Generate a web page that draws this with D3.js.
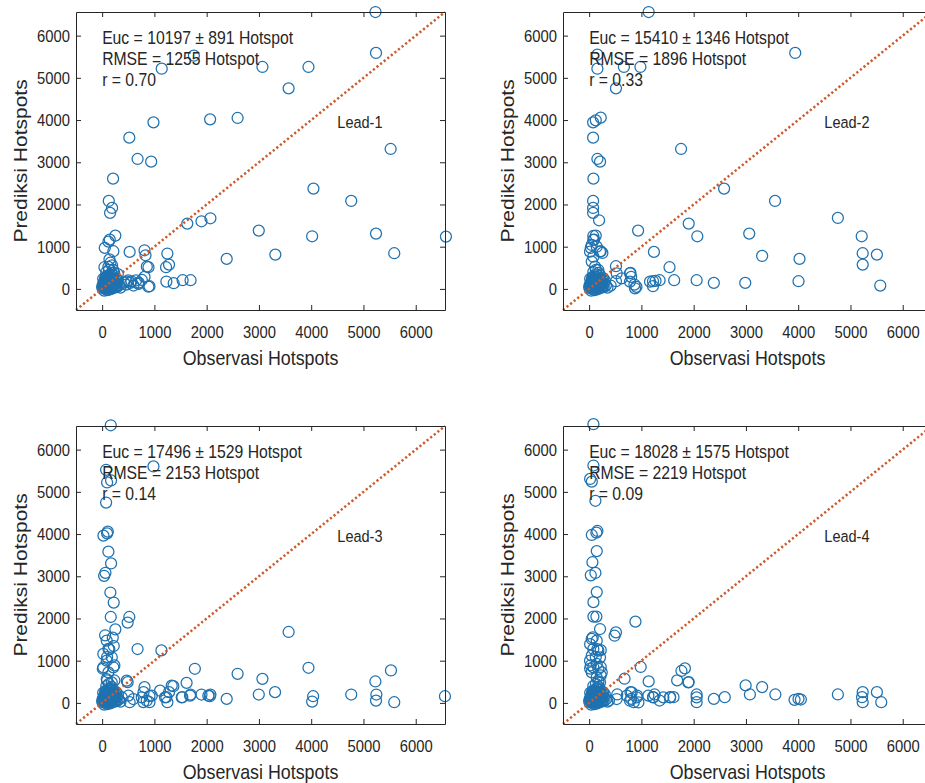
<!DOCTYPE html>
<html>
<head>
<meta charset="utf-8">
<script src="https://cdn.jsdelivr.net/npm/d3@7"></script>
<style>
  body { margin: 0; background: #fff; }
  svg { display: block; font-family: 'Liberation Sans', Arial, sans-serif; }
</style>
</head>
<body>
<svg id="chart" width="925" height="783"></svg>
<script>
// axis range shared by every panel (x and y identical, 1:1 line corner to corner)
const DOMAIN = [-500, 6560];
const TICKS = [0, 1000, 2000, 3000, 4000, 5000, 6000];

const leadNames = ['Lead-1', 'Lead-2', 'Lead-3', 'Lead-4'];
const eucText = ['10197 \u00b1 891', '15410 \u00b1 1346', '17496 \u00b1 1529', '18028 \u00b1 1575'];
const rmseText = ['1255', '1896', '2153', '2219'];
const rText = ['0.70', '0.33', '0.14', '0.09'];

// dense blob of small observations / small predictions (same in all panels)
const nearOrigin = [[20,20],[40,60],[60,100],[80,140],[100,180],[120,60],[140,120],[160,200],[180,80],[200,250],
  [220,150],[240,40],[50,200],[70,260],[90,300],[110,20],[130,280],[150,340],[170,30],[190,160],[210,320],
  [230,100],[250,220],[30,150],[60,0],[100,-30],[150,-10],[200,10],[260,60],[280,130],[300,200],[320,80],
  [350,30],[80,400],[130,450],[180,380],[40,-40],[10,90],[90,50],[130,170],[170,240],[210,60],[60,220],[270,250],
  [0,40],[30,110],[50,30],[70,170],[110,240],[140,60],[160,130],[190,20],[220,210],[240,110],[120,120],[90,200],
  [60,280],[180,300],[250,150],[20,240],[140,220],[200,130],[280,40],[110,90],[80,70],[170,170]];

// [observasi, prediksi]
const lead1 = [[5230,6560],[5240,5590],[1755,5525],[1140,5217],[3067,5257],[3948,5257],[3568,4751],[2066,4017],
  [2592,4049],[982,3946],[520,3583],[678,3078],[938,3015],[5520,3315],[209,2612],[4043,2376],[4766,2084],
  [127,2084],[190,1918],[152,1800],[1629,1547],[1901,1602],[2072,1673],[2997,1381],[4018,1247],[5240,1310],
  [6578,1239],[253,1263],[146,1168],[51,971],[215,892],[526,876],[811,915],[830,797],[1248,837],[2383,710],
  [3314,813],[5589,845],[1280,576],[1223,513],[887,513],[44,513],[1540,205],[1692,205],[1229,174],[1369,134],
  [811,284],[906,63],[539,142],[697,118],[121,1119],[140,700],[160,620],[190,560],[210,450],[120,520],[230,380],
  [300,350],[420,150],[460,100],[500,200],[560,180],[600,80],[650,200],[700,150],[760,211],[886,52],[472,171],[855,527]];

const lead2 = [[1139,6560],[3943,5590],[158,5549],[158,5217],[665,5257],[981,5257],[513,4751],[76,3946],[127,3994],
  [222,4057],[76,3583],[158,3078],[209,3015],[1759,3315],[82,2612],[2582,2376],[3557,2084],[76,2084],[76,1918],
  [76,1800],[190,1626],[1905,1547],[2070,1247],[3063,1310],[937,1381],[4759,1681],[5215,1247],[5234,845],
  [5234,576],[5506,813],[5570,79],[4025,710],[3310,781],[1240,876],[1538,513],[95,1168],[127,1263],[32,971],
  [222,892],[253,852],[513,537],[791,379],[804,284],[1222,182],[1348,205],[1627,205],[2057,205],[2386,142],
  [2987,142],[4006,182],[905,47],[867,103],[1222,63],[411,79],[513,182],[80,1254],[80,1160],[50,1041],[145,1000],
  [17,882],[208,882],[80,763],[50,645],[113,527],[176,448],[527,370],[622,251],[782,370],[782,171],[878,14],
  [1165,171],[1270,190]];

const lead3 = [[165,6577],[982,5602],[76,5523],[95,5222],[171,5269],[76,4746],[25,3962],[95,4017],[108,4057],
  [120,3582],[171,3304],[38,3011],[63,3082],[158,2615],[222,2377],[165,2036],[520,2036],[488,1902],[253,1743],
  [57,1601],[203,1545],[222,1347],[139,1268],[95,1086],[678,1276],[1134,1244],[3568,1680],[13,808],[234,887],
  [95,531],[234,531],[488,491],[1774,808],[2592,689],[3067,570],[3948,832],[5526,769],[5228,507],[5247,198],
  [5240,55],[5589,16],[4766,198],[4037,158],[4018,32],[3308,254],[2997,198],[2383,95],[2072,198],[2060,158],
  [1901,198],[1692,198],[1616,475],[1362,396],[1280,254],[1534,135],[1229,135],[1248,16],[811,372],[792,254],
  [906,158],[906,16],[526,16],[6559,158],[88,1475],[120,1278],[23,1160],[184,1081],[88,1001],[23,843],[214,843],
  [120,724],[88,566],[184,487],[471,527],[375,131],[502,171],[597,92],[758,131],[789,20],[853,52],[949,171],
  [1108,289],[1203,131],[1331,408],[1523,131],[1682,171],[2032,171]];

const lead4 = [[82,6603],[82,5624],[19,5306],[51,5243],[120,4789],[51,3978],[139,4033],[158,4073],[146,3596],
  [63,3333],[120,3079],[32,3023],[146,2625],[82,2387],[82,2045],[139,2045],[209,1750],[70,1551],[19,1392],
  [158,1273],[222,1249],[127,1090],[32,891],[19,811],[222,851],[222,652],[177,509],[513,1671],[487,1591],
  [886,1925],[987,851],[677,573],[1139,509],[1766,756],[1684,533],[1905,493],[2994,414],[3076,199],[3310,374],
  [3563,199],[3930,72],[4006,95],[4051,80],[4759,199],[5234,255],[5222,135],[5234,16],[5506,255],[5589,16],
  [2057,199],[2057,16],[2386,95],[2595,135],[1551,135],[1614,135],[1348,56],[1222,135],[1253,199],[791,255],
  [854,16],[918,175],[804,95],[538,199],[380,56],[50,1515],[145,1475],[80,1278],[176,1238],[50,1119],[208,1079],
  [17,1001],[145,922],[80,843],[176,804],[50,724],[241,724],[145,605],[208,487],[527,92],[720,171],[782,52],
  [815,250],[910,131],[942,10],[1133,171],[1228,131],[1420,131],[1548,131],[1833,818],[1897,487],[2057,131]];

const leads = [lead1, lead2, lead3, lead4];

// layout
const PW = 369, PH = 298;
const panelPos = [{ left: 76, top: 12 }, { left: 563, top: 12 }, { left: 76, top: 426 }, { left: 563, top: 426 }];
const INK = '#262626';
const FONT = "'Liberation Sans', Arial, sans-serif";

const svg = d3.select('#chart');

function styleText(sel, size, sx) {
  sel.style('font-size', `${size}px`).style('font-family', FONT).attr('fill', INK)
    .attr('transform', `scale(${sx},1)`);
}

function drawPanel(i) {
  const p = panelPos[i];
  const g = svg.append('g').attr('transform', `translate(${p.left},${p.top})`);
  const x = d3.scaleLinear().domain(DOMAIN).range([0, PW]);
  const y = d3.scaleLinear().domain(DOMAIN).range([PH, 0]);

  // points (MATLAB 'o' markers)
  const pts = nearOrigin.concat(leads[i]);
  g.append('g').selectAll('circle').data(pts).join('circle')
    .attr('cx', (d) => x(d[0])).attr('cy', (d) => y(d[1])).attr('r', 5.5)
    .attr('fill', 'none').attr('stroke', '#1f72b0').attr('stroke-width', 1.25);

  // 1:1 line, dotted, on top of markers
  g.append('line')
    .attr('x1', x(DOMAIN[0])).attr('y1', y(DOMAIN[0]))
    .attr('x2', x(DOMAIN[1])).attr('y2', y(DOMAIN[1]))
    .attr('stroke', '#cc5a2a').attr('stroke-width', 2.5).attr('stroke-dasharray', '2.2,2.4');

  // box with inward ticks on all four sides
  const fmt = d3.format('d');
  const axB = g.append('g').attr('transform', `translate(0,${PH})`)
    .call(d3.axisBottom(x).tickValues(TICKS).tickFormat(fmt).tickSizeInner(-5).tickSizeOuter(0).tickPadding(15.5));
  const axL = g.append('g')
    .call(d3.axisLeft(y).tickValues(TICKS).tickFormat(fmt).tickSizeInner(-5).tickSizeOuter(0).tickPadding(7));
  g.append('g').call(d3.axisTop(x).tickValues(TICKS).tickSizeInner(-5).tickSizeOuter(0).tickFormat(''));
  g.append('g').attr('transform', `translate(${PW},0)`)
    .call(d3.axisRight(y).tickValues(TICKS).tickSizeInner(-5).tickSizeOuter(0).tickFormat(''));
  g.selectAll('.domain, .tick line').attr('stroke', INK);
  styleText(axB.selectAll('text'), 17, 0.87);
  styleText(axL.selectAll('text'), 17, 0.87);

  // axis titles
  g.append('text').attr('text-anchor', 'middle')
    .attr('transform', `translate(${PW / 2},${PH + 55}) scale(0.85,1)`)
    .style('font-size', '21px').attr('fill', INK).text('Observasi Hotspots');
  g.append('text').attr('text-anchor', 'middle')
    .attr('transform', `translate(-49.5,${PH / 2}) rotate(-90) scale(1,0.85)`)
    .style('font-size', '21px').attr('fill', INK).text('Prediksi Hotspots');

  // stats block
  const lines = [`Euc = ${eucText[i]} Hotspot`, `RMSE = ${rmseText[i]} Hotspot`, `r = ${rText[i]}`];
  const x0 = x(0), yc = y(5450);
  lines.forEach((t, k) => {
    g.append('text')
      .attr('transform', `translate(${x0},${yc + (k - 1) * 21}) scale(0.9,1)`)
      .attr('dy', '0.36em').style('font-size', '17.5px').attr('fill', INK).text(t);
  });

  g.append('text')
    .attr('transform', `translate(${x(4500)},${y(3950)}) scale(0.88,1)`)
    .attr('dy', '0.36em').style('font-size', '16.5px').attr('fill', INK).text(leadNames[i]);
}

[0, 1, 2, 3].forEach(drawPanel);
</script>
</body>
</html>
